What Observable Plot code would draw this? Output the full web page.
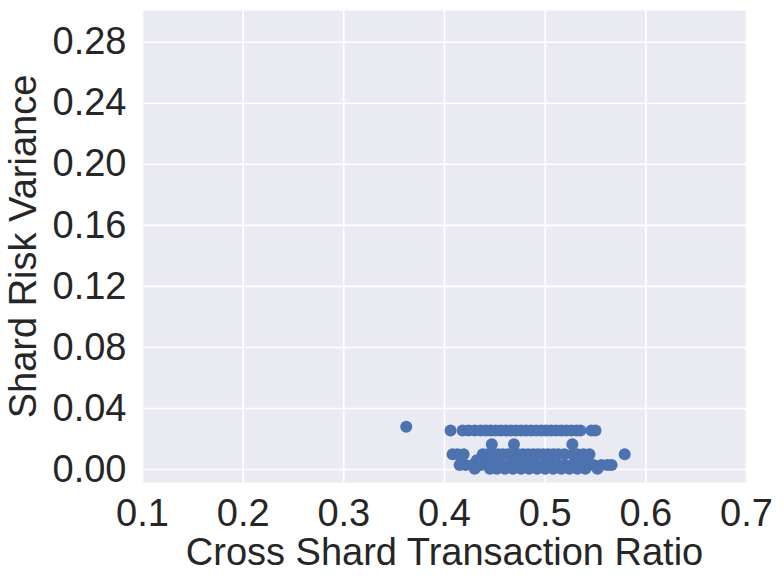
<!DOCTYPE html>
<html>
<head>
<meta charset="utf-8">
<script src="https://cdn.jsdelivr.net/npm/d3@7"></script>
<script src="https://cdn.jsdelivr.net/npm/@observablehq/plot@0.6"></script>
<style>
  html, body { margin: 0; padding: 0; background: #ffffff; }
  #chart { width: 784px; height: 584px; }
</style>
</head>
<body>
<div id="chart"></div>
<script>
// Chart texts
const xLabel = "Cross Shard Transaction Ratio";
const yLabel = "Shard Risk Variance";
const xTicks = [0.1, 0.2, 0.3, 0.4, 0.5, 0.6, 0.7];
const yTicks = [0.00, 0.04, 0.08, 0.12, 0.16, 0.20, 0.24, 0.28];

// Data: [cross shard ratio, shard risk variance]
const outlierPoints = [[0.362, 0.028]];
const upperBand = [
  [0.406, 0.0255], [0.418, 0.0255], [0.424, 0.0255], [0.430, 0.0255], [0.436, 0.0255],
  [0.441, 0.0255], [0.446, 0.0255], [0.451, 0.0255], [0.456, 0.0255], [0.461, 0.0255],
  [0.466, 0.0255], [0.471, 0.0255], [0.476, 0.0255], [0.481, 0.0255], [0.486, 0.0255],
  [0.491, 0.0255], [0.496, 0.0255], [0.501, 0.0255], [0.506, 0.0255], [0.511, 0.0255],
  [0.516, 0.0255], [0.521, 0.0255], [0.526, 0.0255], [0.531, 0.0255], [0.535, 0.0255],
  [0.546, 0.0255], [0.550, 0.0255]
];
const middleBand = [[0.447, 0.0165], [0.469, 0.0165], [0.527, 0.0165]];
const lowerBand = [
  [0.408, 0.010], [0.413, 0.010], [0.419, 0.010], [0.438, 0.010], [0.443, 0.010],
  [0.448, 0.010], [0.453, 0.010], [0.458, 0.010], [0.463, 0.010], [0.468, 0.010],
  [0.473, 0.010], [0.478, 0.010], [0.483, 0.010], [0.488, 0.010], [0.493, 0.010],
  [0.498, 0.010], [0.503, 0.010], [0.508, 0.010], [0.513, 0.010], [0.519, 0.010],
  [0.527, 0.010], [0.532, 0.010], [0.538, 0.010], [0.544, 0.010], [0.579, 0.010]
];
const nearZeroBand = [
  [0.432, 0.006], [0.445, 0.006], [0.470, 0.006], [0.530, 0.006],
  [0.415, 0.003], [0.421, 0.003], [0.428, 0.003], [0.436, 0.003], [0.443, 0.003],
  [0.450, 0.003], [0.457, 0.003], [0.464, 0.003], [0.471, 0.003], [0.478, 0.003],
  [0.485, 0.003], [0.492, 0.003], [0.499, 0.003], [0.506, 0.003], [0.513, 0.003],
  [0.520, 0.003], [0.527, 0.003], [0.534, 0.003], [0.541, 0.003], [0.548, 0.003],
  [0.556, 0.003], [0.562, 0.003], [0.566, 0.003]
];
const zeroBand = [
  [0.430, 0.0005], [0.445, 0.0005], [0.452, 0.0005], [0.460, 0.0005], [0.468, 0.0005],
  [0.476, 0.0005], [0.484, 0.0005], [0.492, 0.0005], [0.500, 0.0005], [0.508, 0.0005],
  [0.516, 0.0005], [0.524, 0.0005], [0.532, 0.0005], [0.540, 0.0005], [0.552, 0.0005]
];

const points = [...outlierPoints, ...upperBand, ...middleBand, ...lowerBand, ...nearZeroBand, ...zeroBand]
  .map(([ratio, variance]) => ({ratio, variance}));

const font = "'Liberation Sans', Arial, Helvetica, sans-serif";

const chart = Plot.plot({
  width: 784,
  height: 584,
  marginLeft: 142,
  marginRight: 38,
  marginTop: 10,
  marginBottom: 102,
  style: {fontFamily: font, fontSize: "38px", color: "#262626", background: "#ffffff"},
  x: {domain: [0.1, 0.7], ticks: xTicks, tickFormat: d => d.toFixed(1)},
  y: {domain: [-0.0085, 0.3008], ticks: yTicks, tickFormat: d => d.toFixed(2)},
  marks: [
    Plot.frame({fill: "#EAEAF2", stroke: null}),
    Plot.gridX(xTicks, {stroke: "#ffffff", strokeOpacity: 1, strokeWidth: 1.6}),
    Plot.gridY(yTicks, {stroke: "#ffffff", strokeOpacity: 1, strokeWidth: 1.6}),
    Plot.axisX(xTicks, {tickSize: 0, tickPadding: 17, label: null, fontSize: 38, fill: "#262626", tickFormat: d => d.toFixed(1)}),
    Plot.axisY(yTicks, {tickSize: 0, tickPadding: 16, label: null, fontSize: 38, fill: "#262626", tickFormat: d => d.toFixed(2)}),
    Plot.dot(points, {x: "ratio", y: "variance", r: 6, fill: "#4C72B0", stroke: null}),
    Plot.text([xLabel], {frameAnchor: "bottom", textAnchor: "middle", lineAnchor: "middle", dy: 70, fontSize: 38, fill: "#262626"}),
    Plot.text([yLabel], {frameAnchor: "left", textAnchor: "middle", rotate: -90, lineAnchor: "middle", dx: -119, fontSize: 38, fill: "#262626"})
  ]
});
document.getElementById("chart").appendChild(chart);
</script>
</body>
</html>
